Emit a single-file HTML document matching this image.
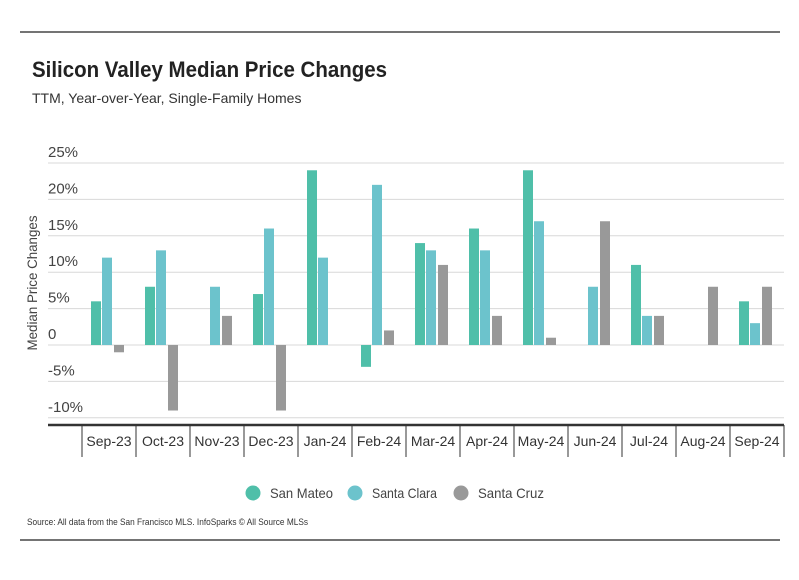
<!DOCTYPE html>
<html><head><meta charset="utf-8"><style>
body{margin:0;background:#fff;}
svg text{font-family:"Liberation Sans Narrow","Liberation Sans",sans-serif;}
</style></head><body>
<svg id="chart" width="799" height="575" xmlns="http://www.w3.org/2000/svg">
<line x1="20" y1="32" x2="780" y2="32" stroke="#222" stroke-width="1.2"/>
<text x="32" y="77" font-size="22" font-weight="bold" fill="#222" textLength="355" lengthAdjust="spacingAndGlyphs" style="font-family:'Liberation Sans',sans-serif">Silicon Valley Median Price Changes</text>
<text x="32" y="103" font-size="14" fill="#333">TTM, Year-over-Year, Single-Family Homes</text>
<text transform="translate(37,283) rotate(-90)" text-anchor="middle" font-size="14" fill="#444" textLength="135" lengthAdjust="spacingAndGlyphs">Median Price Changes</text>
<g id="grid"></g><g id="bars"></g><g id="xaxis"></g>
<g>
<g><circle cx="253" cy="493" r="7.5" fill="#4fbfa9"/><text x="270" y="498" font-size="14" fill="#444" textLength="63" lengthAdjust="spacingAndGlyphs">San Mateo</text></g>
<g><circle cx="355" cy="493" r="7.5" fill="#6cc3cc"/><text x="372" y="498" font-size="14" fill="#444" textLength="65" lengthAdjust="spacingAndGlyphs">Santa Clara</text></g>
<g><circle cx="461" cy="493" r="7.5" fill="#999"/><text x="478" y="498" font-size="14" fill="#444" textLength="66" lengthAdjust="spacingAndGlyphs">Santa Cruz</text></g>
</g>
<text x="27" y="525" font-size="9.5" fill="#333" textLength="281" lengthAdjust="spacingAndGlyphs">Source:  All data from the San Francisco MLS. InfoSparks © All Source MLSs</text>
<line x1="20" y1="540" x2="780" y2="540" stroke="#222" stroke-width="1.2"/>
</svg>
<script>
const categories=["Sep-23","Oct-23","Nov-23","Dec-23","Jan-24","Feb-24","Mar-24","Apr-24","May-24","Jun-24","Jul-24","Aug-24","Sep-24"];
const sanMateo=[6,8,null,7,24,-3,14,16,24,null,11,null,6];
const santaClara=[12,13,8,16,12,22,13,13,17,8,4,null,3];
const santaCruz=[-1,-9,4,-9,null,2,11,4,1,17,4,8,8];
const yTicks=[25,20,15,10,5,0,-5,-10];
const yTickLabels=["25%","20%","15%","10%","5%","0","-5%","-10%"];
const NS="http://www.w3.org/2000/svg";
const x0=82,x1=784,y0=345,pxPer=36.4/5;
const bw=(x1-x0)/categories.length;
const y=v=>y0-v*pxPer;
const xc=i=>x0+bw*(i+0.5);
function mk(t,a,p){const e=document.createElementNS(NS,t);for(const k in a)e.setAttribute(k,a[k]);p.appendChild(e);return e;}
const grid=document.getElementById('grid'),bars=document.getElementById('bars'),xa=document.getElementById('xaxis');
yTicks.forEach((t,i)=>{
 const l=mk('line',{x1:48,x2:784,y1:y(t),y2:y(t),stroke:'#d8d8d8','stroke-width':1},grid);
 
 
 const tx=mk('text',{x:48,y:y(t)-6,'font-size':15,fill:'#444'},grid);
 tx.textContent=yTickLabels[i];
 
 
});
const series=[[sanMateo,'#4fbfa9',-13,'san-mateo'],[santaClara,'#6cc3cc',-2,'santa-clara'],[santaCruz,'#999',10,'santa-cruz']];
series.forEach(([vals,col,off,nm])=>{
 vals.forEach((v,i)=>{
  if(v===null)return;
  const top=Math.min(y(v),y0),h=Math.abs(y(v)-y0);
  const r=mk('rect',{x:xc(i)+off-5,y:top,width:10,height:h,fill:col},bars);
  
  
 });
});
const ax=mk('line',{x1:48,x2:784,y1:425,y2:425,stroke:'#333','stroke-width':2.5},xa);


for(let i=0;i<=categories.length;i++){
 const d=mk('line',{x1:x0+bw*i,x2:x0+bw*i,y1:425,y2:457,stroke:'#333','stroke-width':1},xa);
 
 
}
categories.forEach((c,i)=>{
 const t=mk('text',{x:xc(i),y:446,'text-anchor':'middle','font-size':14,fill:'#333'},xa);
 t.textContent=c;
 
 
});
</script>
</body></html>
